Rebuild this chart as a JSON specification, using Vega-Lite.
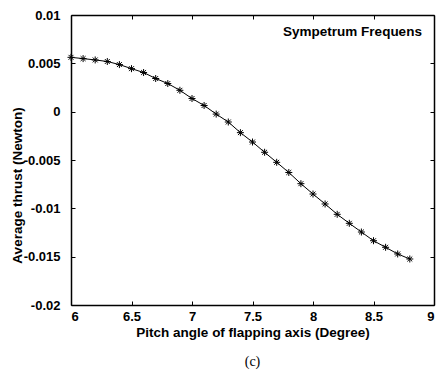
{
  "$schema": "https://vega.github.io/schema/vega-lite/v6.json",
  "width": 363,
  "height": 290,
  "autosize": {"type": "none"},
  "padding": {"left": 71, "top": 15, "right": 5, "bottom": 68},
  "background": "white",
  "config": {
    "view": {"stroke": null},
    "font": "Liberation Sans",
    "axis": {
      "domainColor": "black",
      "domainWidth": 1.5,
      "tickColor": "black",
      "tickWidth": 1,
      "tickSize": -4,
      "grid": false,
      "labelFont": "Liberation Sans",
      "labelFontWeight": "bold",
      "labelFontSize": 13,
      "labelColor": "black",
      "titleFont": "Liberation Sans",
      "titleFontWeight": "bold",
      "titleFontSize": 13.5,
      "titleColor": "black"
    }
  },
  "title": {
    "text": "(c)",
    "orient": "bottom",
    "anchor": "middle",
    "font": "Liberation Serif",
    "fontSize": 14,
    "fontWeight": "normal",
    "color": "black",
    "offset": 16
  },
  "data": {
    "values": [
      {"pitch": 6.0, "thrust": 0.00562},
      {"pitch": 6.1, "thrust": 0.00549},
      {"pitch": 6.2, "thrust": 0.00535},
      {"pitch": 6.3, "thrust": 0.00519},
      {"pitch": 6.4, "thrust": 0.00487},
      {"pitch": 6.5, "thrust": 0.00445},
      {"pitch": 6.6, "thrust": 0.00405},
      {"pitch": 6.7, "thrust": 0.00343},
      {"pitch": 6.8, "thrust": 0.00291},
      {"pitch": 6.9, "thrust": 0.00221},
      {"pitch": 7.0, "thrust": 0.00136},
      {"pitch": 7.1, "thrust": 0.00064},
      {"pitch": 7.2, "thrust": -0.00025},
      {"pitch": 7.3, "thrust": -0.00107},
      {"pitch": 7.4, "thrust": -0.00217},
      {"pitch": 7.5, "thrust": -0.00314},
      {"pitch": 7.6, "thrust": -0.0042},
      {"pitch": 7.7, "thrust": -0.00524},
      {"pitch": 7.8, "thrust": -0.00629},
      {"pitch": 7.9, "thrust": -0.00745},
      {"pitch": 8.0, "thrust": -0.00852},
      {"pitch": 8.1, "thrust": -0.00955},
      {"pitch": 8.2, "thrust": -0.01062},
      {"pitch": 8.3, "thrust": -0.01155},
      {"pitch": 8.4, "thrust": -0.01245},
      {"pitch": 8.5, "thrust": -0.01335},
      {"pitch": 8.6, "thrust": -0.01403},
      {"pitch": 8.7, "thrust": -0.01472},
      {"pitch": 8.8, "thrust": -0.01524}
    ]
  },
  "layer": [
    {
      "mark": {"type": "line", "color": "black", "strokeWidth": 1},
      "encoding": {
        "x": {
          "field": "pitch", "type": "quantitative",
          "scale": {"domain": [6, 9], "nice": false, "zero": false},
          "axis": {
            "orient": "bottom",
            "values": [6, 6.5, 7, 7.5, 8, 8.5, 9],
            "labelExpr": "'' + datum.value",
            "labelPadding": 9,
            "title": "Pitch angle of flapping axis (Degree)",
            "titleY": 27,
            "titleBaseline": "middle"
          }
        },
        "y": {
          "field": "thrust", "type": "quantitative",
          "scale": {"domain": [-0.02, 0.01], "nice": false, "zero": false},
          "axis": {
            "orient": "left",
            "values": [-0.02, -0.015, -0.01, -0.005, 0, 0.005, 0.01],
            "labelExpr": "'' + datum.value",
            "labelPadding": 15,
            "title": "Average thrust (Newton)",
            "titleX": -54,
            "titleY": 170,
            "titleBaseline": "middle",
            "titleAlign": "center",
            "titleAngle": -90
          }
        }
      }
    },
    {
      "mark": {
        "type": "point",
        "shape": "M-1,0L1,0M0,-1L0,1M-0.7,-0.7L0.7,0.7M-0.7,0.7L0.7,-0.7",
        "filled": false,
        "stroke": "black",
        "strokeWidth": 1,
        "size": 49,
        "opacity": 1
      },
      "encoding": {
        "x": {
          "field": "pitch", "type": "quantitative",
          "axis": {"orient": "top", "values": [6, 6.5, 7, 7.5, 8, 8.5, 9], "labels": false, "title": null}
        },
        "y": {
          "field": "thrust", "type": "quantitative",
          "axis": {"orient": "right", "values": [-0.02, -0.015, -0.01, -0.005, 0, 0.005, 0.01], "labels": false, "title": null}
        }
      }
    },
    {
      "data": {"values": [{"label": "Sympetrum Frequens"}]},
      "mark": {"type": "text", "align": "right", "baseline": "middle", "font": "Liberation Sans", "fontWeight": "bold", "fontSize": 13.5, "color": "black"},
      "encoding": {
        "x": {"datum": 8.9, "type": "quantitative", "axis": null},
        "y": {"datum": 0.0082, "type": "quantitative", "axis": null},
        "text": {"field": "label"}
      }
    }
  ],
  "resolve": {"axis": {"x": "independent", "y": "independent"}}
}
